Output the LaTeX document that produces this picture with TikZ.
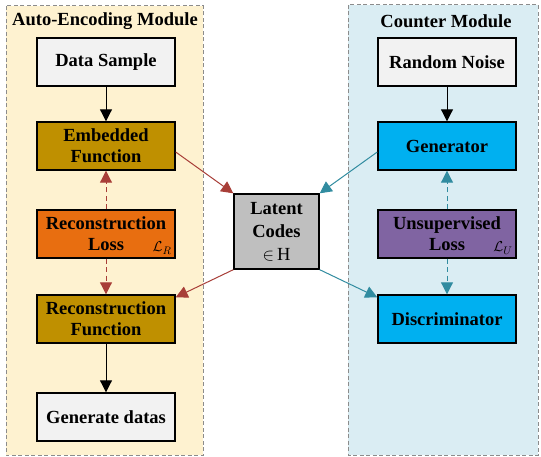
\documentclass[tikz,border=0pt]{standalone}
\usepackage{fontspec}
\setmainfont{Liberation Serif}
\usetikzlibrary{arrows.meta,calc}
\definecolor{panelA}{RGB}{254,242,208}
\definecolor{panelB}{RGB}{218,237,243}
\definecolor{lightbox}{RGB}{242,242,242}
\definecolor{gold}{RGB}{191,144,0}
\definecolor{orangebox}{RGB}{232,110,16}
\definecolor{graybox}{RGB}{191,191,191}
\definecolor{cyanbox}{RGB}{0,176,240}
\definecolor{purplebox}{RGB}{128,100,162}
\definecolor{redline}{RGB}{168,62,56}
\definecolor{tealline}{RGB}{49,140,160}
\definecolor{panelline}{RGB}{140,140,140}
\tikzset{
  panel/.style={draw=panelline, dashed, dash pattern=on 4pt off 2.5pt, line width=1pt},
  blockbox/.style={draw=black, line width=1.4pt, minimum width=138pt, minimum height=48pt,
    align=center, font=\fontsize{18.5}{21}\selectfont\bfseries, inner sep=0pt},
  paneltitle/.style={font=\fontsize{18.5}{20}\selectfont\bfseries},
  lossmark/.style={font=\fontsize{15}{15}\selectfont, inner sep=0pt},
  blackarrow/.style={draw=black, line width=1pt, -{Triangle[length=12pt,width=12pt]}},
  redarrow/.style={draw=redline, line width=1pt, -{Triangle[length=12pt,width=12pt]}},
  tealarrow/.style={draw=tealline, line width=1pt, -{Triangle[length=12pt,width=12pt]}},
  dasharrow/.style={dashed, dash pattern=on 5pt off 3.5pt}
}
\begin{document}
\begin{tikzpicture}[x=1pt,y=-1pt]
\useasboundingbox (0,0) rectangle (541,457);
\fill[white] (0,0) rectangle (541,457);
% module panels
\draw[panel, fill=panelA] (6,6) rectangle (203,455);
\draw[panel, fill=panelB] (348,5) rectangle (538,455);
\node[paneltitle] (tA) at (105,21) {Auto-Encoding Module};
\node[paneltitle] (tB) at (446,21) {Counter Module};
% auto-encoding blocks
\node[blockbox, fill=lightbox] (ds) at (106,62) {Data Sample};
\node[blockbox, fill=gold] (emb) at (106,146) {Embedded\\Function};
\node[blockbox, fill=orangebox] (rl) at (106,234) {Reconstruction\\Loss};
\node[lossmark] (lr) at (162,248) {$\mathcal{L}_{R}$};
\node[blockbox, fill=gold] (rf) at (106,319) {Reconstruction\\Function};
\node[blockbox, fill=lightbox] (gd) at (106,417) {Generate datas};
% counter blocks
\node[blockbox, fill=lightbox] (rn) at (447,62) {Random Noise};
\node[blockbox, fill=cyanbox] (gen) at (447,146) {Generator};
\node[blockbox, fill=purplebox] (ul) at (447,234) {Unsupervised\\Loss};
\node[lossmark] (lu) at (503,248) {$\mathcal{L}_{U}$};
\node[blockbox, fill=cyanbox] (disc) at (447,319) {Discriminator};
% latent space
\node[blockbox, fill=graybox, minimum width=85pt, minimum height=75pt,
  font=\fontsize{18.5}{23}\selectfont\bfseries] (lat) at (276.5,231.5)
  {Latent\\Codes\\{\mdseries$\in$\,H}};
% vertical flow
\draw[blackarrow] (ds) -- (emb);
\draw[blackarrow] (rf) -- (gd);
\draw[blackarrow] (rn) -- (gen);
\draw[redarrow, dasharrow] (rl) -- (emb);
\draw[redarrow, dasharrow] (rl) -- (rf);
\draw[tealarrow, dasharrow] (ul) -- (gen);
\draw[tealarrow, dasharrow] (ul) -- (disc);
% links through the latent codes
\draw[redarrow] ($(emb.east)+(0,6)$) -- (lat.north west);
\draw[redarrow] (lat.south west) -- ($(rf.north east)+(0,3)$);
\draw[tealarrow] ($(gen.west)+(0,6)$) -- (lat.north east);
\draw[tealarrow] (lat.south east) -- ($(disc.north west)+(0,3)$);
\end{tikzpicture}
\end{document}
